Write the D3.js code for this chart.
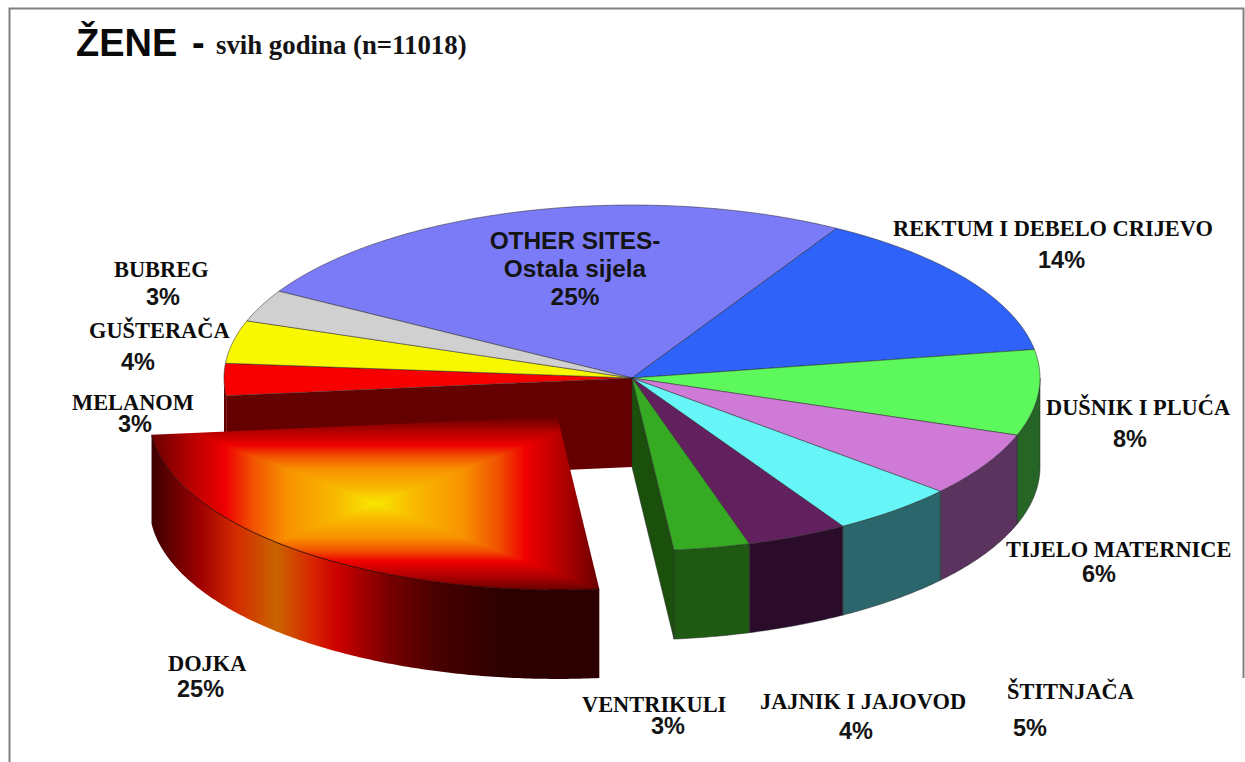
<!DOCTYPE html>
<html>
<head>
<meta charset="utf-8">
<style>
  html, body { margin: 0; background: #fff; }
  svg { display: block; }
  .name { font-family: "Liberation Serif", serif; font-weight: bold; font-size: 22.4px; fill: #0c0c0c; }
  .pct { font-family: "Liberation Sans", sans-serif; font-weight: bold; font-size: 23.5px; fill: #141414; }
  .inner { font-family: "Liberation Sans", sans-serif; font-weight: bold; font-size: 24.4px; fill: #141414; }
</style>
<script src="https://cdn.jsdelivr.net/npm/d3@7"></script>
</head>
<body>
<div id="container"></div>
<script>
let categories = ['OTHER SITES', 'REKTUM I DEBELO CRIJEVO', 'DUŠNIK I PLUĆA', 'TIJELO MATERNICE', 'ŠTITNJAČA',
  'JAJNIK I JAJOVOD', 'VENTRIKULI', 'DOJKA', 'MELANOM', 'GUŠTERAČA', 'BUBREG']
let values = [25, 14, 8, 6, 5, 4, 3, 25, 3, 4, 3]
let topColors = ['#7b7bf8', '#2e62f8', '#5cf85c', '#d07ad8', '#66f6f8', '#62205e', '#35aa22', '#f00000', '#f80000', '#f8f800', '#d0d0d0']
let wallColors = ['#3c3c7c', '#17317c', '#276527', '#5a335e', '#2a666c', '#2a0c2a', '#1f5a12', '#2c0000', '#650000', '#7c7c00', '#686868']
let exploded = 'DOJKA'

let width = 1245,
  height = 762,
  cx = 632,
  cy = 378,
  rx = 408,
  ry = 173,
  depth = 89,
  pull = 0.29

let rad = d => d * Math.PI / 180

let xScale = d3.scaleLinear().domain([-1, 1]).range([cx - rx, cx + rx]),
  yScale = d3.scaleLinear().domain([-1, 1]).range([cy + ry, cy - ry])

let pie = d3.pie().sort(null).value(d => d).startAngle(rad(-59.9)).endAngle(rad(300.1))
let slices = pie(values).map((d, i) => ({ ...d, name: categories[i], top: topColors[i], wall: wallColors[i] }))

// point on the rim (r = 1) or on the axis (r = 0), angle clockwise from the top
let pt = (a, r, off, dy) => [
  xScale(r * Math.sin(a) + off[0]),
  yScale(r * Math.cos(a) + off[1]) + dy
]
let arcPoints = (a0, a1, off, dy) => d3.range(a0, a1, 0.01).concat(a1).map(a => pt(a, 1, off, dy))
let line = d3.line()

let svg = d3.select('#container')
  .append('svg')
  .attr('width', width)
  .attr('height', height)
let defs = svg.append('defs')

// frame
svg.append('path')
  .attr('d', 'M9.5 ' + height + 'V8.5H1243.5V678')
  .attr('fill', 'none')
  .attr('stroke', '#808080')
  .attr('stroke-width', 2)

let noOffset = [0, 0]
let faceLine = { stroke: '#2a2a2a', width: 0.7, opacity: 0.75 }

let topPath = (d, off) => line([pt(0, 0, off, 0)].concat(arcPoints(d.startAngle, d.endAngle, off, 0))) + 'Z'
let wallPath = (a0, a1, off) => line(arcPoints(a0, a1, off, 0).concat(arcPoints(a0, a1, off, depth).reverse())) + 'Z'
let radialPath = (a, off) => line([pt(0, 0, off, 0), pt(a, 1, off, 0), pt(a, 1, off, depth), pt(0, 0, off, depth)]) + 'Z'

let isOut = d => d.name === exploded
let stay = slices.filter(d => !isOut(d))
let out = slices.find(isOut)
let outIndex = slices.indexOf(out)

// cut faces left open by the pulled slice
let pie3d = svg.append('g')
pie3d.append('path')
  .attr('d', radialPath(slices[outIndex + 1].startAngle, noOffset))
  .attr('fill', slices[outIndex + 1].wall)
pie3d.append('path')
  .attr('d', radialPath(slices[outIndex - 1].endAngle, noOffset))
  .attr('fill', '#1a4f0c')
  .attr('stroke', faceLine.stroke).attr('stroke-width', faceLine.width).attr('stroke-opacity', faceLine.opacity)

// outer walls, only the front half of the rim shows
pie3d.selectAll('.wall')
  .data(stay.filter(d => d.endAngle > Math.PI / 2 && d.startAngle < 3 * Math.PI / 2))
  .join('path')
  .attr('class', 'wall')
  .attr('d', d => wallPath(Math.max(d.startAngle, Math.PI / 2), Math.min(d.endAngle, 3 * Math.PI / 2), noOffset))
  .attr('fill', d => d.wall)
  .attr('stroke', faceLine.stroke).attr('stroke-width', faceLine.width).attr('stroke-opacity', d => d.startAngle > Math.PI ? 0 : faceLine.opacity)

pie3d.selectAll('.top')
  .data(stay)
  .join('path')
  .attr('class', 'top')
  .attr('d', d => topPath(d, noOffset))
  .attr('fill', d => d.top)
  .attr('stroke', faceLine.stroke).attr('stroke-width', faceLine.width).attr('stroke-opacity', faceLine.opacity)

// pulled slice
let mid = (out.startAngle + out.endAngle) / 2
let off = [pull * Math.sin(mid), pull * Math.cos(mid)]

let sideStops = [[0, '#3c0000'], [0.11, '#a00000'], [0.19, '#d42c00'], [0.28, '#c86400'], [0.355, '#d82800'],
  [0.415, '#cc0000'], [0.53, '#780000'], [0.64, '#480000'], [0.79, '#2c0000'], [1, '#2c0000']]
let glowStops = [[0, '#6a0000'], [0.18, '#b80000'], [0.33, '#f00000'], [0.45, '#f05000'], [0.6, '#f89000'], [0.82, '#f8b800'], [1, '#f8e800']]

let addGradient = (id, stops, x1, y1, x2, y2) => {
  let g = defs.append('linearGradient').attr('id', id)
    .attr('x1', x1).attr('y1', y1).attr('x2', x2).attr('y2', y2)
  g.selectAll('stop').data(stops).join('stop')
    .attr('offset', d => d[0])
    .attr('stop-color', d => d[1])
}
addGradient('side', sideStops, 0, 0, 1, 0)
addGradient('glowL', glowStops, 0, 0, 1, 0)
addGradient('glowR', glowStops, 1, 0, 0, 0)
addGradient('glowT', glowStops, 0, 0, 0, 1)
addGradient('glowB', glowStops, 0, 1, 0, 0)

let outG = svg.append('g')
outG.append('path')
  .attr('d', wallPath(out.startAngle, out.endAngle, off))
  .attr('fill', 'url(#side)')

defs.append('clipPath').attr('id', 'outClip')
  .append('path').attr('d', topPath(out, off))

// top face glow: four triangles meeting in the middle of the face's box
let facePts = [pt(0, 0, off, 0)].concat(arcPoints(out.startAngle, out.endAngle, off, 0))
let [x0, x1] = d3.extent(facePts, d => d[0]),
  [y0, y1] = d3.extent(facePts, d => d[1]),
  mx = (x0 + x1) / 2,
  my = (y0 + y1) / 2
let glow = [
  ['glowL', [[x0, y0], [mx, my], [x0, y1]]],
  ['glowR', [[x1, y0], [mx, my], [x1, y1]]],
  ['glowT', [[x0, y0], [mx, my], [x1, y0]]],
  ['glowB', [[x0, y1], [mx, my], [x1, y1]]]
]
outG.append('g')
  .attr('clip-path', 'url(#outClip)')
  .selectAll('path')
  .data(glow)
  .join('path')
  .attr('d', d => line(d[1]) + 'Z')
  .attr('fill', d => 'url(#' + d[0] + ')')
  .attr('shape-rendering', 'crispEdges')

outG.append('path')
  .attr('d', line(arcPoints(out.startAngle, out.endAngle, off, 0)))
  .attr('fill', 'none')
  .attr('stroke', '#2a0000')
  .attr('stroke-width', 0.9)

// title
let title = svg.append('g')
title.append('text').text('ŽENE')
  .attr('x', 76).attr('y', 56)
  .attr('font-family', '"Liberation Sans", sans-serif')
  .attr('font-weight', 'bold')
  .attr('font-size', 38)
  .attr('fill', '#0a0a0a')
title.append('text').text('-')
  .attr('x', 192).attr('y', 56)
  .attr('font-family', '"Liberation Sans", sans-serif')
  .attr('font-weight', 'bold')
  .attr('font-size', 38)
  .attr('fill', '#0a0a0a')
title.append('text').text('svih godina (n=11018)')
  .attr('x', 216).attr('y', 54)
  .attr('font-family', '"Liberation Serif", serif')
  .attr('font-weight', 'bold')
  .attr('font-size', 26.8)
  .attr('fill', '#141414')

// labels: name position, then percent position
let labelPos = {
  'REKTUM I DEBELO CRIJEVO': [893, 236, 1038, 268],
  'DUŠNIK I PLUĆA': [1046, 415, 1113, 447],
  'TIJELO MATERNICE': [1006, 557, 1082, 582],
  'ŠTITNJAČA': [1007, 699, 1013, 736],
  'JAJNIK I JAJOVOD': [760, 709, 839, 739],
  'VENTRIKULI': [582, 712, 651, 734],
  'DOJKA': [168, 671, 177, 697],
  'MELANOM': [72, 410, 118, 432],
  'GUŠTERAČA': [89, 338, 121, 370],
  'BUBREG': [114, 277, 146, 305]
}
let outer = slices.filter(d => labelPos[d.name])
svg.selectAll('.name')
  .data(outer)
  .join('text')
  .attr('class', 'name')
  .attr('x', d => labelPos[d.name][0])
  .attr('y', d => labelPos[d.name][1])
  .text(d => d.name)
svg.selectAll('.pct')
  .data(outer)
  .join('text')
  .attr('class', 'pct')
  .attr('x', d => labelPos[d.name][2])
  .attr('y', d => labelPos[d.name][3])
  .text(d => d.value + '%')

// label sitting on the big slice
let innerLines = ['OTHER SITES-', 'Ostala sijela', values[0] + '%']
let innerY = [249, 277, 305]
svg.selectAll('.inner')
  .data(innerLines)
  .join('text')
  .attr('class', 'inner')
  .attr('x', 575)
  .attr('y', (d, i) => innerY[i])
  .attr('text-anchor', 'middle')
  .text(d => d)
</script>
</body>
</html>
